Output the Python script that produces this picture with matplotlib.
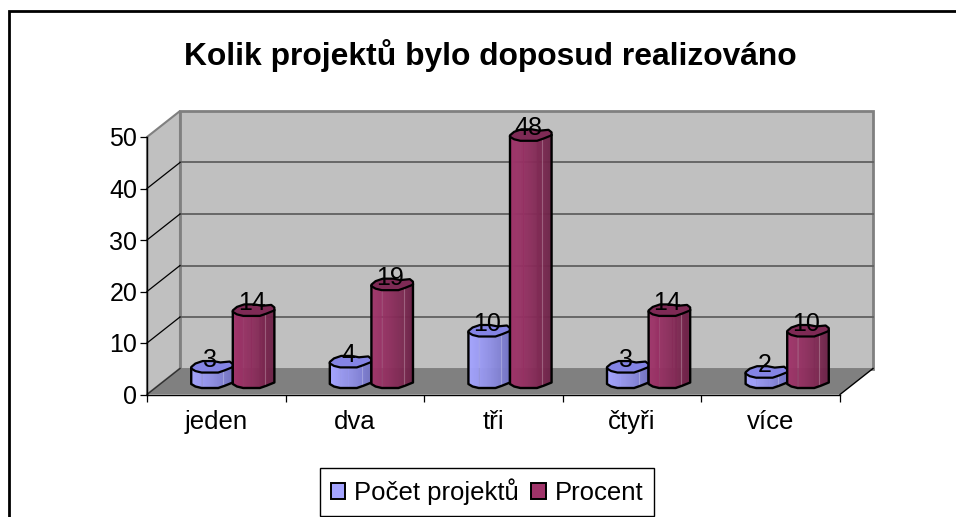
import numpy as np
import matplotlib
matplotlib.use("Agg")
import matplotlib.pyplot as plt
from matplotlib.patches import Patch
from matplotlib.lines import Line2D
from matplotlib.colors import to_rgb

categories = ["jeden", "dva", "tři", "čtyři", "více"]
pocet = [3, 4, 10, 3, 2]
procent = [14, 19, 48, 14, 10]
series_names = ["Počet projektů", "Procent"]
title = "Kolik projektů bylo doposud realizováno"

W, H = 956, 517
plt.rcParams["font.family"] = ["Liberation Sans", "DejaVu Sans"]
fig = plt.figure(figsize=(W / 100, H / 100), dpi=100, facecolor="white")
L, R, T, B = 147, 840, 137, 394.5
ax = fig.add_axes([L / W, 1 - B / H, (R - L) / W, (B - T) / H])
ax.set_xlim(0, 5)
ax.set_ylim(0, 50)
ax.patch.set_visible(False)

PX = 5 / (R - L)            # data x per pixel
PY = 50 / (B - T)           # data y per pixel
DX, DY = 33 * PX, 26 * PY   # depth vector

# frame of the chart area (cropped at right and bottom)
fig.add_artist(Line2D([8.5 / W, 8.5 / W, 1], [0, 1 - 11 / H, 1 - 11 / H], color="black", lw=2.0,
                      solid_joinstyle="miter"))

# walls and floor
ax.fill([0, DX, DX, 0], [0, DY, 50 + DY, 50], fc="#C0C0C0", ec="#808080", lw=1.5, clip_on=False, zorder=1)
ax.fill([DX, 5 + DX, 5 + DX, DX], [DY, DY, 50 + DY, 50 + DY], fc="#C0C0C0", ec="#808080", lw=2, clip_on=False, zorder=1)
ax.fill([0, 5, 5 + DX, DX], [0, 0, DY, DY], fc="#808080", ec="none", clip_on=False, zorder=1.5)
ax.plot([5, 5 + DX], [0, DY], color="black", lw=1, clip_on=False, zorder=2)
ax.plot([0, DX], [0, DY], color="#303030", lw=1, clip_on=False, zorder=2)

for v in range(10, 50, 10):
    ax.plot([DX, 5 + DX], [v + DY, v + DY], color="#606060", lw=1.3, clip_on=False, zorder=2)
    ax.plot([0, DX], [v, v + DY], color="black", lw=0.9, clip_on=False, zorder=2)

# shape of a bar: u runs -1..1 across the width, v is in value units
front_u = np.array([-1.0, -0.8, -0.5, 0.3, 0.62, 1.0])
front_v = np.array([-2.5, -5.0, -6.5, -6.5, -4.2, -1.0]) * PY
back_u = np.array([1.0, 0.85, 0.4, 0.05, -0.45, -0.8, -1.0])
back_v = np.array([2.0, 4.5, 3.6, 5.0, 5.0, 2.5, -1.0]) * PY
HALF = 0.15

BLUE = ("#A4A4FF", "#7474C4")
RED = ("#A0346A", "#6C2347")
CAPS = ("#8484E4", "#7E2A55")


def draw_bar(cx, value, idx, zb):
    base = 0.5 * DY
    top = base + value
    x0 = cx + 0.5 * DX
    us = np.linspace(-1, 1, 41)
    vs = np.interp(us, front_u, front_v)
    c0, c1 = np.array(to_rgb(BLUE[0] if idx == 0 else RED[0])), np.array(to_rgb(BLUE[1] if idx == 0 else RED[1]))
    for i in range(len(us) - 1):
        t = (i + 0.5) / (len(us) - 1)
        col = c0 + (c1 - c0) * t ** 1.3
        xs = x0 + np.array([us[i], us[i + 1], us[i + 1], us[i]]) * HALF
        ys = [top + vs[i], top + vs[i + 1], base + vs[i + 1], base + vs[i]]
        ax.fill(xs, ys, fc=col, ec=col, lw=0.4, clip_on=False, zorder=zb)
    # faint facet line
    u = 0.55
    v = np.interp(u, front_u, front_v)
    ax.plot([x0 + u * HALF] * 2, [top + v, base + v], color="white", alpha=0.25, lw=0.8, clip_on=False, zorder=zb + 0.01)
    # cap
    cap_x = np.r_[front_u, back_u] * HALF + x0
    cap_y = np.r_[front_v, back_v] + top
    ax.fill(cap_x, cap_y, fc=CAPS[idx], ec="black", lw=1.6, clip_on=False, zorder=zb + 0.02, joinstyle="round")
    # side outline
    ox = np.r_[-1.0, front_u, 1.0] * HALF + x0
    oy = np.r_[top + front_v[0], base + front_v, top + front_v[-1]]
    ax.plot(ox, oy, color="black", lw=1.7, clip_on=False, zorder=zb + 0.02, solid_joinstyle="round")
    # value label
    ax.annotate(str(value), (x0, top), xytext=(-2, 6), textcoords="offset pixels", ha="center", va="center",
                fontsize=18, color="black", zorder=20, annotation_clip=False)


for i, (a, b) in enumerate(zip(pocet, procent)):
    cx = i + 0.5
    draw_bar(cx - HALF, a, 0, 3 + i)
    draw_bar(cx + HALF, b, 1, 3.5 + i)

# axes
for s in ("top", "right"):
    ax.spines[s].set_visible(False)
for s in ("left", "bottom"):
    ax.spines[s].set_color("black")
    ax.spines[s].set_linewidth(1.0)
    ax.spines[s].set_zorder(2.5)
ax.set_yticks(range(0, 51, 10))
ax.set_xticks(range(0, 6))
ax.set_xticklabels([])
ax.set_xticks(np.arange(5) + 0.5, labels=categories, minor=True)
ax.tick_params(axis="y", which="major", length=5, width=0.9, labelsize=18, pad=2)
ax.tick_params(axis="x", which="major", length=5, width=0.9)
ax.tick_params(axis="x", which="minor", length=0, labelsize=18.5, pad=11)

fig.text(490 / W, 1 - 55.5 / H, title, ha="center", va="center", fontsize=22.9, fontweight="bold", color="black")

handles = [Patch(fc=BLUE[0], ec="black", lw=1.4), Patch(fc=RED[0], ec="black", lw=1.4)]
leg = fig.legend(handles, series_names, ncol=2, loc="center", bbox_to_anchor=(487 / W, 1 - 492 / H),
                 fontsize=18.5, frameon=True, fancybox=False, edgecolor="black", framealpha=1,
                 handlelength=0.58, handleheight=0.58, handletextpad=0.35, columnspacing=0.46,
                 borderpad=0.4, borderaxespad=0)
leg.get_frame().set_linewidth(1.0)

fig.savefig("out.png", dpi=100, facecolor="white")
